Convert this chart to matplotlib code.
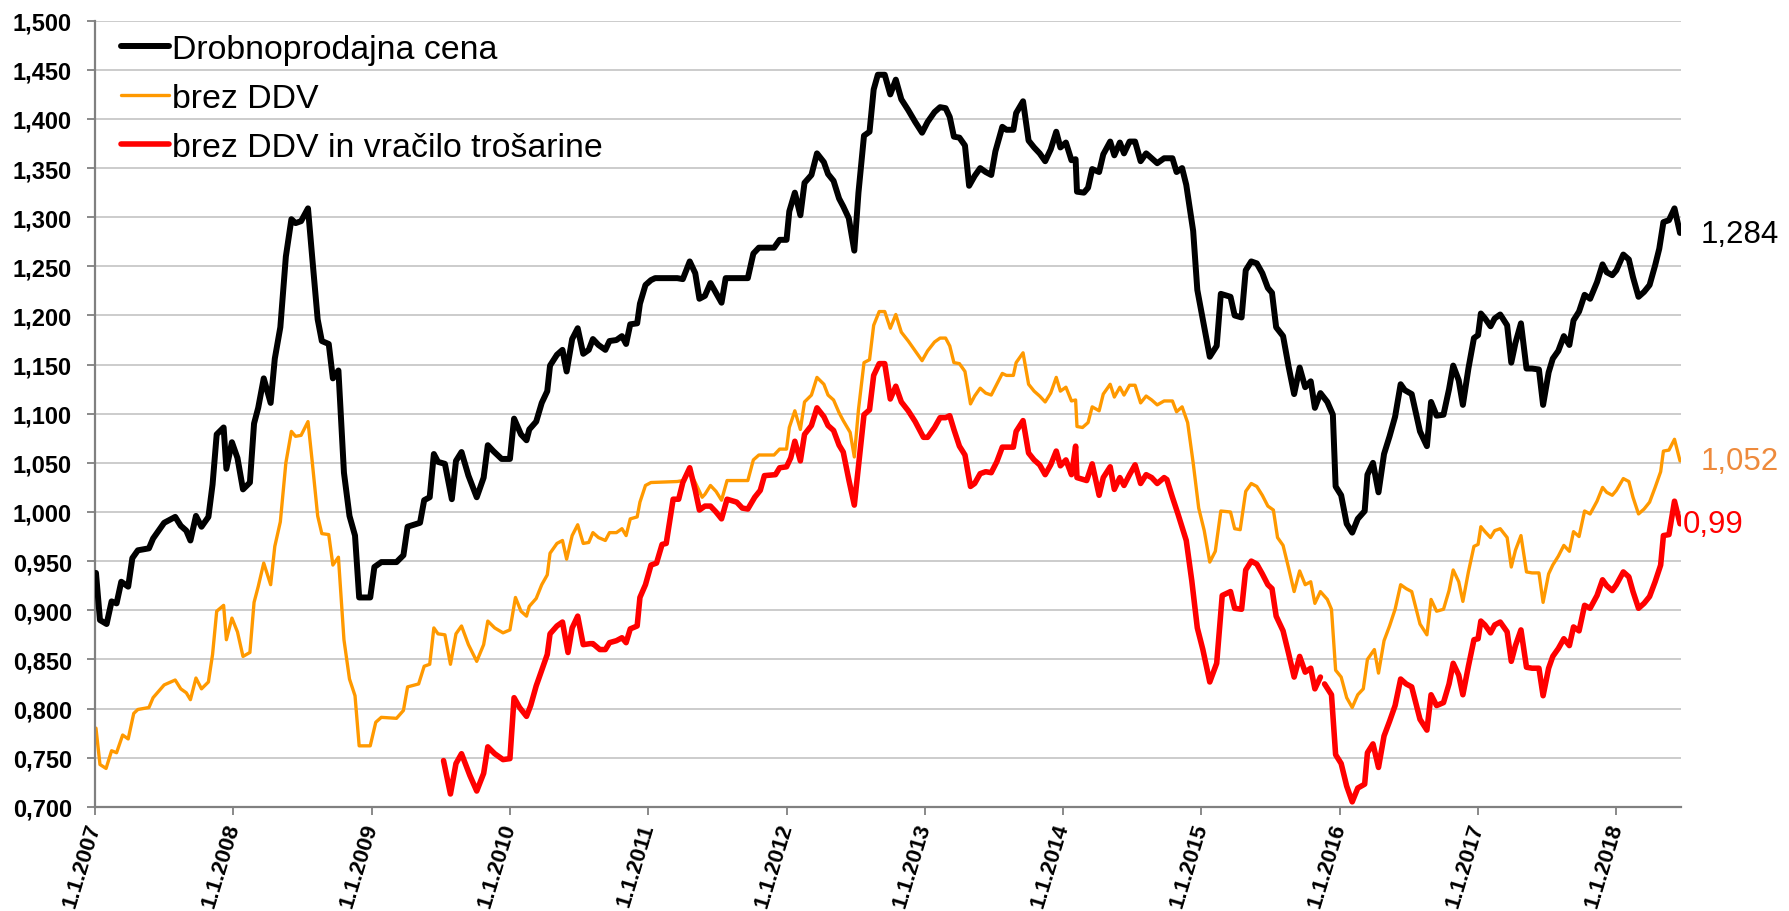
import matplotlib
matplotlib.use("Agg")
import matplotlib.pyplot as plt
import numpy as np
from matplotlib.ticker import FuncFormatter, MultipleLocator

plt.rcParams['font.family'] = ['Liberation Sans', 'DejaVu Sans']

# ---------------- data (decimal year, EUR/l) ----------------
retail_x = [2007.007, 2007.036, 2007.084, 2007.120, 2007.156, 2007.190, 2007.240, 2007.270, 2007.310, 2007.390,
            2007.420, 2007.500, 2007.580, 2007.620, 2007.660, 2007.690, 2007.730, 2007.770, 2007.820, 2007.850,
            2007.880, 2007.930, 2007.950, 2007.990, 2008.030, 2008.070, 2008.120, 2008.150, 2008.180, 2008.220,
            2008.270, 2008.300, 2008.340, 2008.380, 2008.420, 2008.450, 2008.490, 2008.540, 2008.570, 2008.610,
            2008.640, 2008.690, 2008.720, 2008.760, 2008.800, 2008.840, 2008.880, 2008.910, 2008.990, 2009.020,
            2009.070, 2009.180, 2009.230, 2009.260, 2009.350, 2009.380, 2009.420, 2009.450, 2009.480, 2009.530,
            2009.580, 2009.610, 2009.650, 2009.700, 2009.760, 2009.810, 2009.840, 2009.880, 2009.940, 2010.000,
            2010.030, 2010.080, 2010.120, 2010.140, 2010.190, 2010.230, 2010.270, 2010.290, 2010.340, 2010.380,
            2010.410, 2010.450, 2010.490, 2010.530, 2010.570, 2010.600, 2010.640, 2010.690, 2010.720, 2010.770,
            2010.810, 2010.840, 2010.870, 2010.920, 2010.940, 2010.980, 2011.020, 2011.050, 2011.210, 2011.250,
            2011.300, 2011.340, 2011.370, 2011.410, 2011.450, 2011.490, 2011.530, 2011.560, 2011.720, 2011.760,
            2011.800, 2011.910, 2011.950, 2012.000, 2012.020, 2012.060, 2012.100, 2012.130, 2012.180, 2012.220,
            2012.270, 2012.300, 2012.340, 2012.380, 2012.410, 2012.450, 2012.490, 2012.520, 2012.560, 2012.600,
            2012.630, 2012.660, 2012.710, 2012.750, 2012.790, 2012.830, 2012.880, 2012.930, 2012.980, 2013.020,
            2013.070, 2013.110, 2013.150, 2013.180, 2013.210, 2013.250, 2013.290, 2013.320, 2013.360, 2013.400,
            2013.440, 2013.480, 2013.510, 2013.560, 2013.590, 2013.640, 2013.660, 2013.710, 2013.750, 2013.790,
            2013.830, 2013.870, 2013.910, 2013.950, 2013.980, 2014.020, 2014.060, 2014.090, 2014.100, 2014.150,
            2014.180, 2014.210, 2014.260, 2014.290, 2014.340, 2014.370, 2014.410, 2014.440, 2014.480, 2014.520,
            2014.560, 2014.600, 2014.640, 2014.680, 2014.730, 2014.790, 2014.820, 2014.860, 2014.890, 2014.940,
            2014.970, 2015.010, 2015.060, 2015.110, 2015.140, 2015.210, 2015.240, 2015.290, 2015.320, 2015.360,
            2015.400, 2015.440, 2015.480, 2015.510, 2015.540, 2015.590, 2015.630, 2015.670, 2015.710, 2015.750,
            2015.790, 2015.820, 2015.860, 2015.910, 2015.950, 2015.970, 2016.010, 2016.050, 2016.090, 2016.130,
            2016.180, 2016.200, 2016.240, 2016.280, 2016.320, 2016.360, 2016.400, 2016.440, 2016.470, 2016.520,
            2016.580, 2016.630, 2016.660, 2016.700, 2016.750, 2016.790, 2016.820, 2016.860, 2016.890, 2016.930,
            2016.970, 2017.000, 2017.020, 2017.050, 2017.090, 2017.120, 2017.160, 2017.210, 2017.240, 2017.270,
            2017.310, 2017.350, 2017.390, 2017.440, 2017.470, 2017.510, 2017.540, 2017.580, 2017.620, 2017.660,
            2017.690, 2017.730, 2017.770, 2017.810, 2017.860, 2017.900, 2017.930, 2017.970, 2018.000, 2018.050,
            2018.090, 2018.120, 2018.160, 2018.200, 2018.240, 2018.280, 2018.310, 2018.340, 2018.380, 2018.420,
            2018.460]
retail_y = [0.938, 0.890, 0.886, 0.909, 0.907, 0.929, 0.924, 0.953, 0.961, 0.963,
            0.973, 0.989, 0.995, 0.986, 0.981, 0.971, 0.996, 0.985, 0.995, 1.028,
            1.079, 1.086, 1.044, 1.071, 1.055, 1.023, 1.030, 1.090, 1.106, 1.136,
            1.111, 1.156, 1.188, 1.260, 1.298, 1.294, 1.296, 1.309, 1.260, 1.196,
            1.174, 1.171, 1.136, 1.144, 1.040, 0.996, 0.976, 0.913, 0.913, 0.944,
            0.949, 0.949, 0.956, 0.985, 0.989, 1.012, 1.015, 1.059, 1.051, 1.049,
            1.013, 1.052, 1.061, 1.037, 1.015, 1.035, 1.068, 1.062, 1.054, 1.054,
            1.095, 1.079, 1.073, 1.084, 1.092, 1.111, 1.123, 1.149, 1.160, 1.165,
            1.143, 1.176, 1.187, 1.161, 1.165, 1.176, 1.170, 1.165, 1.174, 1.175,
            1.179, 1.171, 1.191, 1.192, 1.212, 1.231, 1.236, 1.238, 1.238, 1.237,
            1.255, 1.243, 1.217, 1.220, 1.233, 1.223, 1.213, 1.238, 1.238, 1.263,
            1.269, 1.269, 1.277, 1.277, 1.306, 1.325, 1.302, 1.335, 1.343, 1.365,
            1.356, 1.344, 1.337, 1.319, 1.311, 1.299, 1.266, 1.325, 1.383, 1.387,
            1.430, 1.445, 1.445, 1.425, 1.440, 1.420, 1.409, 1.397, 1.386, 1.397,
            1.407, 1.412, 1.411, 1.402, 1.382, 1.381, 1.373, 1.332, 1.342, 1.350,
            1.346, 1.343, 1.367, 1.392, 1.389, 1.389, 1.406, 1.418, 1.378, 1.371,
            1.365, 1.357, 1.369, 1.387, 1.371, 1.376, 1.358, 1.359, 1.326, 1.325,
            1.330, 1.349, 1.346, 1.364, 1.377, 1.363, 1.376, 1.365, 1.377, 1.377,
            1.357, 1.365, 1.360, 1.355, 1.360, 1.360, 1.346, 1.350, 1.333, 1.286,
            1.226, 1.196, 1.158, 1.169, 1.222, 1.219, 1.200, 1.198, 1.246, 1.255,
            1.253, 1.243, 1.228, 1.223, 1.188, 1.179, 1.148, 1.120, 1.147, 1.127,
            1.133, 1.106, 1.121, 1.112, 1.099, 1.026, 1.017, 0.988, 0.979, 0.993,
            1.001, 1.038, 1.050, 1.020, 1.059, 1.077, 1.097, 1.130, 1.124, 1.120,
            1.082, 1.067, 1.112, 1.098, 1.099, 1.125, 1.149, 1.134, 1.109, 1.146,
            1.177, 1.180, 1.202, 1.197, 1.189, 1.197, 1.201, 1.190, 1.152, 1.172,
            1.192, 1.146, 1.146, 1.145, 1.109, 1.142, 1.156, 1.164, 1.179, 1.170,
            1.195, 1.204, 1.221, 1.217, 1.234, 1.252, 1.244, 1.241, 1.246, 1.262,
            1.257, 1.239, 1.219, 1.224, 1.231, 1.251, 1.268, 1.295, 1.297, 1.309,
            1.284]

novat_x = [2007.007, 2007.036, 2007.080, 2007.120, 2007.156, 2007.200, 2007.240, 2007.280, 2007.310, 2007.390,
           2007.420, 2007.500, 2007.580, 2007.620, 2007.660, 2007.690, 2007.730, 2007.770, 2007.820, 2007.850,
           2007.880, 2007.930, 2007.950, 2007.990, 2008.030, 2008.070, 2008.120, 2008.150, 2008.180, 2008.220,
           2008.270, 2008.300, 2008.340, 2008.380, 2008.420, 2008.450, 2008.490, 2008.540, 2008.570, 2008.610,
           2008.640, 2008.690, 2008.720, 2008.760, 2008.800, 2008.840, 2008.880, 2008.910, 2008.990, 2009.030,
           2009.070, 2009.180, 2009.230, 2009.260, 2009.340, 2009.380, 2009.420, 2009.450, 2009.480, 2009.530,
           2009.570, 2009.610, 2009.650, 2009.700, 2009.760, 2009.810, 2009.840, 2009.890, 2009.950, 2010.000,
           2010.040, 2010.080, 2010.120, 2010.140, 2010.190, 2010.230, 2010.270, 2010.290, 2010.340, 2010.380,
           2010.410, 2010.450, 2010.490, 2010.530, 2010.570, 2010.600, 2010.640, 2010.690, 2010.720, 2010.770,
           2010.810, 2010.840, 2010.870, 2010.920, 2010.940, 2010.980, 2011.020, 2011.210, 2011.250, 2011.300,
           2011.340, 2011.390, 2011.410, 2011.450, 2011.490, 2011.530, 2011.570, 2011.720, 2011.760, 2011.800,
           2011.910, 2011.950, 2012.000, 2012.020, 2012.060, 2012.100, 2012.130, 2012.180, 2012.220, 2012.270,
           2012.300, 2012.340, 2012.380, 2012.410, 2012.460, 2012.490, 2012.520, 2012.560, 2012.600, 2012.630,
           2012.670, 2012.710, 2012.750, 2012.790, 2012.830, 2012.880, 2012.930, 2012.980, 2013.020, 2013.070,
           2013.110, 2013.150, 2013.180, 2013.210, 2013.250, 2013.290, 2013.330, 2013.360, 2013.400, 2013.440,
           2013.480, 2013.520, 2013.560, 2013.590, 2013.640, 2013.660, 2013.710, 2013.750, 2013.790, 2013.830,
           2013.870, 2013.910, 2013.950, 2013.980, 2014.020, 2014.060, 2014.090, 2014.100, 2014.140, 2014.180,
           2014.210, 2014.260, 2014.290, 2014.340, 2014.370, 2014.410, 2014.440, 2014.480, 2014.520, 2014.560,
           2014.600, 2014.640, 2014.680, 2014.730, 2014.790, 2014.820, 2014.860, 2014.900, 2014.940, 2014.980,
           2015.020, 2015.060, 2015.100, 2015.140, 2015.210, 2015.240, 2015.280, 2015.320, 2015.360, 2015.400,
           2015.440, 2015.480, 2015.520, 2015.550, 2015.590, 2015.630, 2015.670, 2015.710, 2015.750, 2015.790,
           2015.820, 2015.860, 2015.910, 2015.940, 2015.970, 2016.010, 2016.050, 2016.090, 2016.130, 2016.170,
           2016.200, 2016.250, 2016.280, 2016.320, 2016.360, 2016.400, 2016.440, 2016.480, 2016.520, 2016.580,
           2016.630, 2016.660, 2016.700, 2016.750, 2016.790, 2016.820, 2016.860, 2016.890, 2016.930, 2016.970,
           2017.000, 2017.020, 2017.050, 2017.090, 2017.120, 2017.160, 2017.210, 2017.240, 2017.270, 2017.310,
           2017.350, 2017.390, 2017.440, 2017.470, 2017.510, 2017.540, 2017.580, 2017.620, 2017.660, 2017.690,
           2017.730, 2017.770, 2017.810, 2017.860, 2017.900, 2017.930, 2017.970, 2018.000, 2018.050, 2018.090,
           2018.120, 2018.160, 2018.200, 2018.240, 2018.280, 2018.320, 2018.340, 2018.380, 2018.420, 2018.460]
novat_y = [0.780, 0.743, 0.739, 0.757, 0.755, 0.773, 0.769, 0.795, 0.799, 0.801,
           0.811, 0.824, 0.829, 0.820, 0.816, 0.809, 0.831, 0.820, 0.827, 0.855,
           0.899, 0.905, 0.870, 0.892, 0.878, 0.853, 0.857, 0.908, 0.924, 0.948,
           0.926, 0.965, 0.990, 1.050, 1.082, 1.077, 1.078, 1.092, 1.052, 0.996,
           0.978, 0.977, 0.946, 0.954, 0.870, 0.830, 0.813, 0.762, 0.762, 0.786,
           0.791, 0.790, 0.798, 0.822, 0.825, 0.843, 0.845, 0.882, 0.876, 0.875,
           0.845, 0.876, 0.884, 0.865, 0.848, 0.865, 0.889, 0.882, 0.877, 0.880,
           0.913, 0.899, 0.894, 0.904, 0.912, 0.926, 0.936, 0.958, 0.968, 0.971,
           0.952, 0.976, 0.987, 0.968, 0.969, 0.979, 0.974, 0.971, 0.979, 0.979,
           0.983, 0.976, 0.993, 0.995, 1.010, 1.027, 1.030, 1.031, 1.032, 1.041,
           1.030, 1.015, 1.018, 1.027, 1.021, 1.012, 1.032, 1.032, 1.053, 1.058,
           1.058, 1.064, 1.064, 1.086, 1.103, 1.084, 1.112, 1.119, 1.137, 1.130,
           1.119, 1.114, 1.101, 1.093, 1.081, 1.056, 1.104, 1.152, 1.155, 1.190,
           1.204, 1.204, 1.187, 1.201, 1.183, 1.174, 1.164, 1.154, 1.164, 1.173,
           1.177, 1.177, 1.169, 1.152, 1.151, 1.143, 1.110, 1.118, 1.126, 1.121,
           1.119, 1.130, 1.141, 1.139, 1.139, 1.152, 1.162, 1.130, 1.123, 1.118,
           1.112, 1.121, 1.137, 1.123, 1.127, 1.113, 1.114, 1.087, 1.086, 1.091,
           1.107, 1.103, 1.120, 1.130, 1.117, 1.127, 1.119, 1.129, 1.129, 1.111,
           1.118, 1.114, 1.109, 1.113, 1.113, 1.102, 1.107, 1.091, 1.050, 1.004,
           0.981, 0.949, 0.960, 1.001, 1.000, 0.983, 0.982, 1.021, 1.029, 1.026,
           1.017, 1.006, 1.002, 0.974, 0.966, 0.943, 0.919, 0.940, 0.926, 0.929,
           0.907, 0.919, 0.911, 0.901, 0.839, 0.832, 0.811, 0.801, 0.814, 0.820,
           0.850, 0.860, 0.836, 0.869, 0.884, 0.901, 0.926, 0.922, 0.919, 0.886,
           0.875, 0.911, 0.899, 0.901, 0.920, 0.941, 0.929, 0.909, 0.939, 0.965,
           0.967, 0.985, 0.980, 0.974, 0.981, 0.983, 0.974, 0.944, 0.961, 0.976,
           0.939, 0.938, 0.938, 0.908, 0.937, 0.946, 0.955, 0.966, 0.960, 0.980,
           0.975, 1.001, 0.998, 1.011, 1.025, 1.020, 1.017, 1.022, 1.034, 1.031,
           1.015, 0.998, 1.003, 1.010, 1.025, 1.041, 1.062, 1.063, 1.074, 1.052]

refund_x = [2009.520, 2009.570, 2009.610, 2009.650, 2009.710, 2009.760, 2009.810, 2009.840, 2009.890, 2009.950,
            2010.000, 2010.030, 2010.070, 2010.120, 2010.150, 2010.190, 2010.270, 2010.290, 2010.340, 2010.380,
            2010.420, 2010.450, 2010.490, 2010.530, 2010.580, 2010.600, 2010.650, 2010.690, 2010.720, 2010.770,
            2010.810, 2010.840, 2010.870, 2010.920, 2010.940, 2010.980, 2011.020, 2011.060, 2011.100, 2011.130,
            2011.180, 2011.220, 2011.250, 2011.300, 2011.340, 2011.370, 2011.410, 2011.450, 2011.490, 2011.530,
            2011.570, 2011.640, 2011.680, 2011.720, 2011.770, 2011.810, 2011.840, 2011.920, 2011.950, 2012.000,
            2012.030, 2012.060, 2012.100, 2012.130, 2012.180, 2012.220, 2012.270, 2012.300, 2012.340, 2012.380,
            2012.410, 2012.450, 2012.490, 2012.520, 2012.560, 2012.600, 2012.630, 2012.670, 2012.710, 2012.750,
            2012.790, 2012.830, 2012.880, 2012.930, 2012.990, 2013.020, 2013.070, 2013.110, 2013.150, 2013.180,
            2013.210, 2013.250, 2013.290, 2013.330, 2013.360, 2013.400, 2013.440, 2013.480, 2013.520, 2013.560,
            2013.640, 2013.660, 2013.710, 2013.750, 2013.790, 2013.830, 2013.870, 2013.910, 2013.950, 2013.980,
            2014.020, 2014.060, 2014.070, 2014.090, 2014.100, 2014.170, 2014.210, 2014.260, 2014.290, 2014.340,
            2014.370, 2014.410, 2014.440, 2014.480, 2014.520, 2014.560, 2014.600, 2014.640, 2014.680, 2014.730,
            2014.750, 2014.790, 2014.830, 2014.890, 2014.930, 2014.970, 2015.010, 2015.060, 2015.110, 2015.150,
            2015.210, 2015.240, 2015.290, 2015.320, 2015.360, 2015.400, 2015.440, 2015.480, 2015.510, 2015.540,
            2015.590, 2015.630, 2015.670, 2015.710, 2015.750, 2015.790, 2015.820, 2015.860, 2015.875, 2015.890,
            2015.940, 2015.970, 2016.010, 2016.050, 2016.090, 2016.130, 2016.180, 2016.200, 2016.240, 2016.280,
            2016.320, 2016.360, 2016.400, 2016.440, 2016.480, 2016.520, 2016.580, 2016.630, 2016.660, 2016.700,
            2016.750, 2016.790, 2016.820, 2016.860, 2016.890, 2016.930, 2016.970, 2017.000, 2017.020, 2017.050,
            2017.090, 2017.120, 2017.160, 2017.210, 2017.240, 2017.270, 2017.310, 2017.350, 2017.390, 2017.440,
            2017.470, 2017.510, 2017.540, 2017.580, 2017.620, 2017.660, 2017.690, 2017.730, 2017.770, 2017.810,
            2017.860, 2017.900, 2017.930, 2017.970, 2018.000, 2018.050, 2018.090, 2018.120, 2018.160, 2018.200,
            2018.240, 2018.280, 2018.320, 2018.340, 2018.380, 2018.420, 2018.460]
refund_y = [0.747, 0.713, 0.744, 0.754, 0.732, 0.716, 0.734, 0.761, 0.754, 0.748,
            0.749, 0.811, 0.801, 0.792, 0.803, 0.823, 0.855, 0.876, 0.884, 0.888,
            0.857, 0.882, 0.894, 0.865, 0.866, 0.866, 0.860, 0.860, 0.867, 0.869,
            0.872, 0.867, 0.881, 0.884, 0.913, 0.926, 0.946, 0.948, 0.967, 0.968,
            1.013, 1.013, 1.030, 1.045, 1.022, 1.002, 1.006, 1.006, 1.000, 0.993,
            1.013, 1.010, 1.004, 1.003, 1.015, 1.022, 1.037, 1.038, 1.045, 1.046,
            1.055, 1.072, 1.052, 1.079, 1.088, 1.106, 1.097, 1.088, 1.083, 1.068,
            1.061, 1.033, 1.007, 1.046, 1.099, 1.104, 1.139, 1.151, 1.151, 1.115,
            1.128, 1.112, 1.103, 1.092, 1.076, 1.076, 1.086, 1.096, 1.096, 1.098,
            1.084, 1.067, 1.058, 1.026, 1.029, 1.039, 1.041, 1.040, 1.051, 1.066,
            1.066, 1.082, 1.093, 1.060, 1.053, 1.048, 1.038, 1.048, 1.062, 1.047,
            1.053, 1.038, 1.047, 1.067, 1.035, 1.032, 1.049, 1.017, 1.035, 1.046,
            1.023, 1.035, 1.027, 1.038, 1.048, 1.029, 1.038, 1.035, 1.029, 1.035,
            1.033, 1.015, 0.998, 0.971, 0.930, 0.882, 0.860, 0.827, 0.846, 0.915,
            0.919, 0.902, 0.901, 0.941, 0.950, 0.947, 0.937, 0.926, 0.922, 0.894,
            0.879, 0.856, 0.832, 0.853, 0.837, 0.841, 0.820, 0.832, float('nan'), 0.825,
            0.814, 0.753, 0.744, 0.721, 0.705, 0.719, 0.723, 0.755, 0.764, 0.740,
            0.772, 0.787, 0.803, 0.830, 0.825, 0.822, 0.789, 0.778, 0.814, 0.803,
            0.806, 0.825, 0.846, 0.834, 0.814, 0.843, 0.870, 0.871, 0.889, 0.885,
            0.877, 0.885, 0.888, 0.878, 0.848, 0.864, 0.880, 0.842, 0.841, 0.841,
            0.813, 0.841, 0.853, 0.861, 0.871, 0.864, 0.883, 0.879, 0.905, 0.902,
            0.915, 0.931, 0.925, 0.920, 0.926, 0.939, 0.934, 0.919, 0.902, 0.907,
            0.914, 0.929, 0.946, 0.976, 0.977, 1.011, 0.988]

series_labels = ["Drobnoprodajna cena", "brez DDV", "brez DDV in vračilo trošarine"]
end_labels = ["1,284", "1,052", "0,99"]
tick_years = list(range(2007, 2019))
tick_labels = [f"1.1.{y}" for y in tick_years]

# ---------------- figure ----------------
fig = plt.figure(figsize=(17.89, 9.12), dpi=100)
ax = fig.add_axes([0.0531, 0.1143, 0.8866, 0.8619])

c_black = "#000000"
c_orange = "#FF9900"
c_red = "#FF0000"

kw = dict(solid_joinstyle='round', solid_capstyle='round')
ax.plot(retail_x, retail_y, color=c_black, lw=4.3, label=series_labels[0], zorder=3, **kw)
ax.plot(novat_x, novat_y, color=c_orange, lw=2.4, label=series_labels[1], zorder=2, **kw)
ax.plot(refund_x, refund_y, color=c_red, lw=4.0, label=series_labels[2], zorder=2, **kw)

ax.set_xlim(2007.0, 2018.468)
ax.set_ylim(0.7, 1.5)
ax.yaxis.set_major_locator(MultipleLocator(0.05))
ax.yaxis.set_major_formatter(FuncFormatter(lambda v, p: f"{v:.3f}".replace('.', ',')))
ax.set_xticks(tick_years)
ax.set_xticklabels(tick_labels)

ax.grid(axis='y', color='#C8C8C8', lw=1.3, zorder=0)
ax.set_axisbelow(True)
for s in ['top', 'right']:
    ax.spines[s].set_visible(False)
for s in ['left', 'bottom']:
    ax.spines[s].set_color('#808080')
    ax.spines[s].set_linewidth(1.6)

ax.tick_params(axis='y', direction='out', length=6, width=1.3, color='#808080', pad=10.5,
               labelsize=17)
ax.tick_params(axis='x', direction='out', length=6, width=1.3, color='#808080', pad=6,
               labelsize=16)
for t in ax.get_yticklabels():
    t.set_fontweight('bold')
for t in ax.get_xticklabels():
    t.set_fontweight('bold')
    t.set_rotation(73)
    t.set_ha('right')
    t.set_va('center')
    t.set_rotation_mode('anchor')

leg = ax.legend(loc='upper left', bbox_to_anchor=(0.008, 1.0), frameon=False,
                fontsize=24.4, handlelength=1.42, handletextpad=0.08, labelspacing=0.52,
                borderaxespad=0.0)

# end-value labels
ax.annotate(end_labels[0], xy=(retail_x[-1], retail_y[-1]), xytext=(15, -1),
            textcoords='offset points', color=c_black, fontsize=22.5, va='center', ha='left',
            annotation_clip=False)
ax.annotate(end_labels[1], xy=(novat_x[-1], novat_y[-1]), xytext=(15, 0),
            textcoords='offset points', color='#EE8A3C', fontsize=22.5, va='center', ha='left',
            annotation_clip=False)
ax.annotate(end_labels[2], xy=(refund_x[-1], refund_y[-1]), xytext=(2, 0),
            textcoords='offset points', color=c_red, fontsize=22.5, va='center', ha='left',
            annotation_clip=False)

fig.savefig("out.png", dpi=100)
